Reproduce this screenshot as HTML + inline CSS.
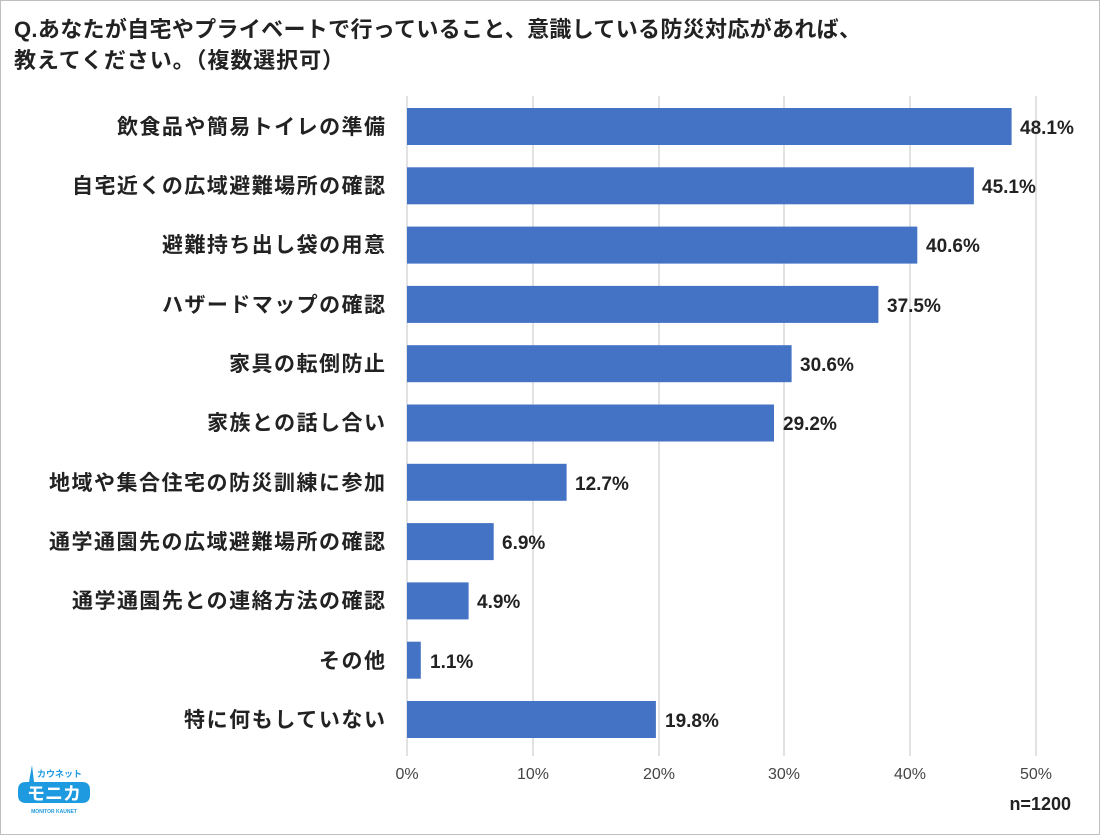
<!DOCTYPE html>
<html><head><meta charset="utf-8"><style>
html,body{margin:0;padding:0;background:#fff}
svg{display:block}
text{font-family:"Liberation Sans","Noto Sans CJK JP",sans-serif}
</style></head><body>
<svg width="1100" height="835" viewBox="0 0 1100 835" xmlns="http://www.w3.org/2000/svg">
<rect x="0.5" y="0.5" width="1099" height="834" fill="#fff" stroke="#bfbfbf"/>
<text x="14" y="37" font-size="22" font-weight="bold" fill="#222" textLength="847" lengthAdjust="spacing">Q.あなたが自宅やプライベートで行っていること、意識している防災対応があれば、</text>
<text x="14" y="68" font-size="22" font-weight="bold" fill="#222" textLength="330" lengthAdjust="spacing">教えてください。（複数選択可）</text>
<g stroke="#d9d9d9" stroke-width="1.5">
<line x1="533" y1="96" x2="533" y2="756"/>
<line x1="659" y1="96" x2="659" y2="756"/>
<line x1="784" y1="96" x2="784" y2="756"/>
<line x1="910" y1="96" x2="910" y2="756"/>
<line x1="1036" y1="96" x2="1036" y2="756"/>
<line x1="407" y1="96" x2="407" y2="756"/>
</g>
<g fill="#4472c4">
<rect x="407" y="108" width="604.6" height="37"/>
<rect x="407" y="167.3" width="566.9" height="37"/>
<rect x="407" y="226.6" width="510.3" height="37"/>
<rect x="407" y="285.9" width="471.4" height="37"/>
<rect x="407" y="345.2" width="384.6" height="37"/>
<rect x="407" y="404.5" width="367" height="37"/>
<rect x="407" y="463.8" width="159.6" height="37"/>
<rect x="407" y="523.1" width="86.7" height="37"/>
<rect x="407" y="582.4" width="61.6" height="37"/>
<rect x="407" y="641.7" width="13.8" height="37"/>
<rect x="407" y="701" width="248.9" height="37"/>
</g>
<g font-size="21" font-weight="bold" fill="#222" lengthAdjust="spacing">
<text x="117" y="134" textLength="268">飲食品や簡易トイレの準備</text>
<text x="72" y="193" textLength="313">自宅近くの広域避難場所の確認</text>
<text x="162" y="252" textLength="223">避難持ち出し袋の用意</text>
<text x="162" y="312" textLength="223">ハザードマップの確認</text>
<text x="229" y="371" textLength="156">家具の転倒防止</text>
<text x="207" y="430" textLength="178">家族との話し合い</text>
<text x="49" y="490" textLength="336">地域や集合住宅の防災訓練に参加</text>
<text x="49" y="549" textLength="336">通学通園先の広域避難場所の確認</text>
<text x="72" y="608" textLength="313">通学通園先との連絡方法の確認</text>
<text x="319" y="668" textLength="66">その他</text>
<text x="184" y="727" textLength="201">特に何もしていない</text>
</g>
<g font-size="19" font-weight="bold" fill="#222">
<text x="1020" y="134">48.1%</text>
<text x="982" y="193">45.1%</text>
<text x="926" y="252">40.6%</text>
<text x="887" y="312">37.5%</text>
<text x="800" y="371">30.6%</text>
<text x="783" y="430">29.2%</text>
<text x="575" y="490">12.7%</text>
<text x="502" y="549">6.9%</text>
<text x="477" y="608">4.9%</text>
<text x="430" y="668">1.1%</text>
<text x="665" y="727">19.8%</text>
</g>
<g font-size="16" fill="#444" text-anchor="middle">
<text x="407" y="779">0%</text>
<text x="533" y="779">10%</text>
<text x="659" y="779">20%</text>
<text x="784" y="779">30%</text>
<text x="910" y="779">40%</text>
<text x="1036" y="779">50%</text>
</g>
<text x="1071" y="810" font-size="18" font-weight="bold" fill="#222" text-anchor="end">n=1200</text>
<g>
<path d="M32 765 L29 782 L26 782 Q18 782 18 790 L18 795 Q18 803 26 803 L82 803 Q90 803 90 795 L90 790 Q90 782 82 782 L34 782 Z" fill="#1e9be0"/>
<text x="37" y="777" font-size="9" font-weight="bold" fill="#1e9be0">カウネット</text>
<text x="54" y="800" font-size="18" font-weight="bold" fill="#fff" text-anchor="middle">モニカ</text>
<text x="54" y="813" font-size="5" font-weight="bold" fill="#1e9be0" text-anchor="middle">MONITOR KAUNET</text>
</g>
</svg>
</body></html>
